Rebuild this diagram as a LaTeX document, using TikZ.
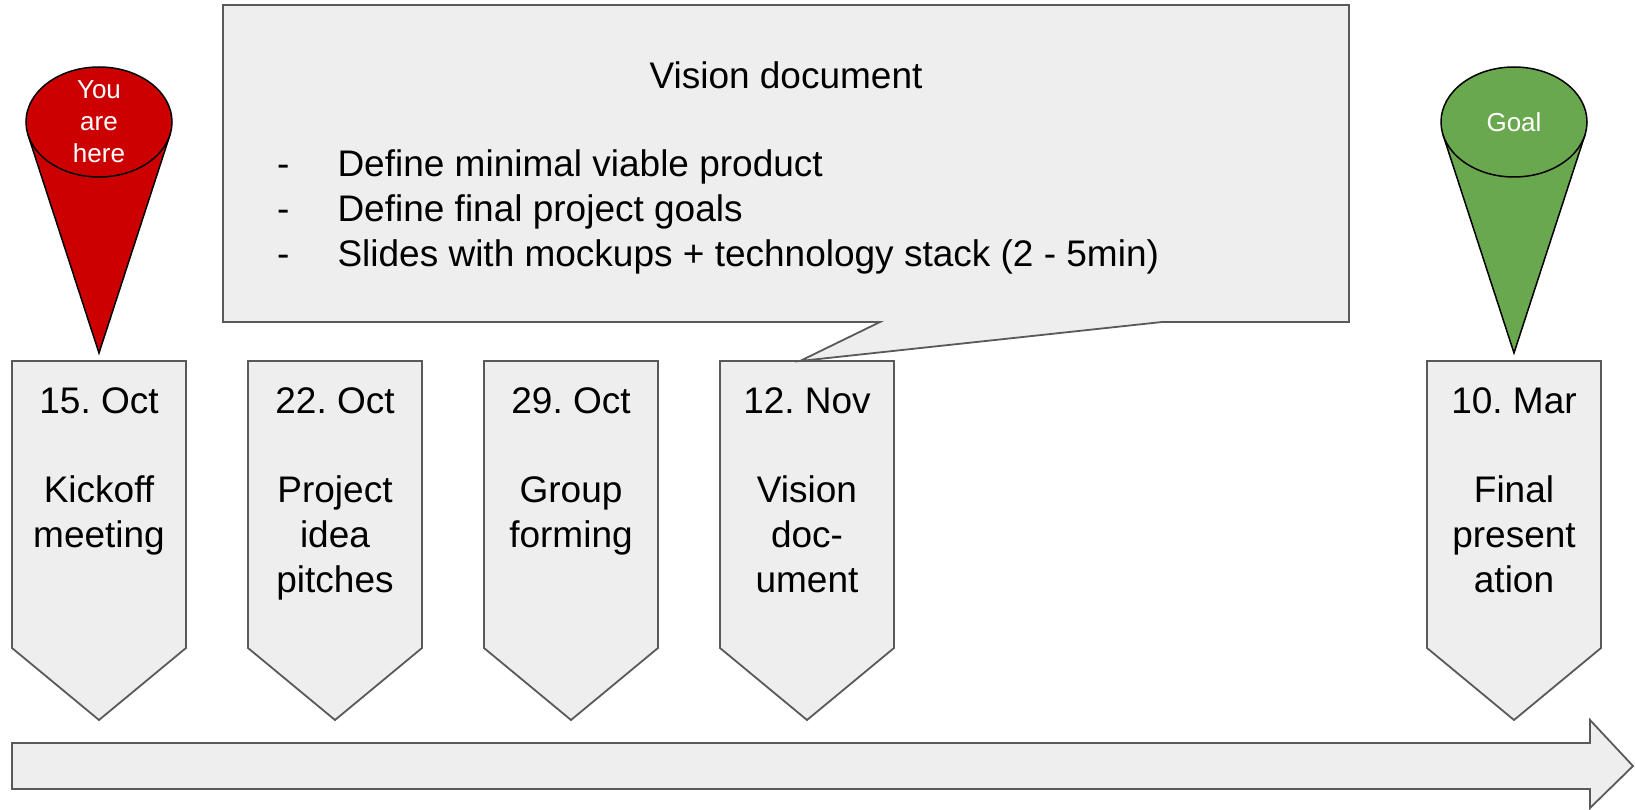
\documentclass[tikz,border=0pt]{standalone}
\usepackage{fontspec}
\setmainfont{Liberation Sans}
\usetikzlibrary{positioning}
\frenchspacing

\definecolor{boxgray}{HTML}{EEEEEE}
\definecolor{edgegray}{HTML}{595959}
\definecolor{pinred}{HTML}{CC0000}
\definecolor{pingreen}{HTML}{6AA84F}

\tikzset{
  graybox/.style={fill=boxgray,draw=edgegray,line width=1.8pt,line join=miter},
  pinbody/.style={draw=black,line width=1.5pt},
  bigtext/.style={font=\fontsize{37}{45}\selectfont,inner sep=0pt},
  datetext/.style={bigtext,align=center,anchor=north},
  pintext/.style={font=\fontsize{26}{32}\selectfont,text=white,align=center,inner sep=0pt},
}

\begin{document}
\begin{tikzpicture}[x=1pt,y=-1pt]
    \useasboundingbox (0,0) rectangle (1635,810);
    % timeline arrow
    \draw[graybox] (12,743) -- (1590,743) -- (1590,720) -- (1633,766) -- (1590,808) -- (1590,789) -- (12,789) -- cycle;
    % date boxes
    \foreach \i/\x/\txt in {1/12/{15. Oct\\[44pt]Kickoff\\meeting},
                            2/248/{22. Oct\\[44pt]Project\\idea\\pitches},
                            3/484/{29. Oct\\[44pt]Group\\forming},
                            4/720/{12. Nov\\[44pt]Vision\\doc-\\ument},
                            5/1427/{10. Mar\\[44pt]Final\\present\\ation}}
    {
        \draw[graybox] (\x,361) -- ++(174,0) -- ++(0,287) -- ++(-87,72) -- ++(-87,-72) -- cycle;
        \coordinate (top\i) at (\x+87,361);
        \node[datetext] (d\i) at (\x+87,387) {\txt};
    }
    % callout
    \draw[graybox] (223,5) -- (1349,5) -- (1349,322) -- (1162,322) -- ([xshift=-7pt]top4) -- (880,322) -- (223,322) -- cycle;
    \node[bigtext,anchor=base] (vtitle) at (786,89) {Vision document};
    \node[bigtext,anchor=base west] (vlist) at (277,177) {\begin{tabular}[t]{@{}l@{\hspace{48pt}}l@{}}
        - & Define minimal viable product\\
        - & Define final project goals\\
        - & Slides with mockups + technology stack (2 - 5min)
    \end{tabular}};
    % pins
    \draw[pinbody,fill=pinred] (28.1,135.1) -- (99,353) -- (169.9,135.1) -- cycle;
    \draw[pinbody,fill=pinred] (99,122) ellipse [x radius=73,y radius=55];
    \node[pintext] (here) at (99,122) {You\\are\\here};
    \draw[pinbody,fill=pingreen] (1443.1,135.1) -- (1514,353) -- (1584.9,135.1) -- cycle;
    \draw[pinbody,fill=pingreen] (1514,122) ellipse [x radius=73,y radius=55];
    \node[pintext] (goal) at (1514,122) {Goal};
\end{tikzpicture}
\end{document}
